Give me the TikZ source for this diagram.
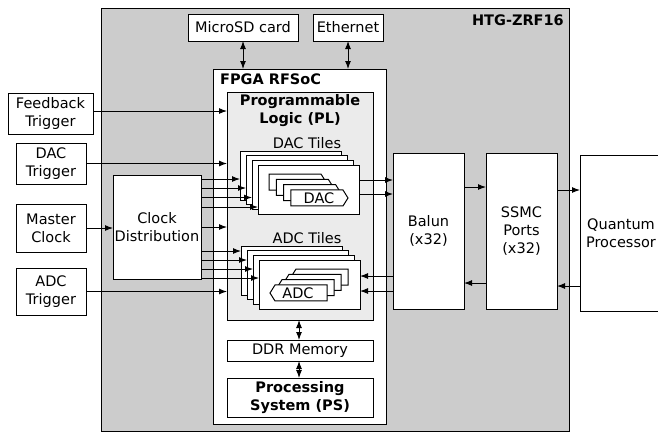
\documentclass[tikz,border=0pt]{standalone}
\usepackage{fontspec}
\setmainfont{DejaVu Sans}
\usetikzlibrary{arrows.meta,calc}
\definecolor{boardgray}{RGB}{204,204,204}
\definecolor{plgray}{RGB}{235,235,235}
\newcommand\fs{\fontsize{14.5pt}{18pt}\selectfont}
\begin{document}
\begin{tikzpicture}[x=1pt,y=-1pt,
  box/.style={draw, fill=white, line width=1pt, inner sep=0pt, outer sep=0pt, align=center, font=\fs},
  arr/.style={line width=1pt, -{Latex[length=8pt,width=6pt]}},
  darr/.style={line width=1pt, {Latex[length=8pt,width=6pt]}-{Latex[length=8pt,width=6pt]}},
  lbl/.style={inner sep=0pt, font=\fs, align=center},
  sig/.style={draw, fill=white, line width=1pt}]
\useasboundingbox (0,0) rectangle (658,434);
\clip (0,0) rectangle (658,434);
% board
\node[box, fill=boardgray, minimum width=468pt, minimum height=423pt] (board) at (335,219.5) {};
\node[lbl, font=\fs\bfseries, anchor=east] (htg) at (564,20) {HTG-ZRF16};
% top peripherals
\node[box, minimum width=110pt, minimum height=27pt] (sd) at (243,27.5) {MicroSD card};
\node[box, minimum width=70pt, minimum height=27pt] (eth) at (348,27.5) {Ethernet};
% FPGA
\node[box, minimum width=173pt, minimum height=355pt] (fpga) at (299.5,246.5) {};
\node[lbl, font=\fs\bfseries, anchor=west] (fpgalbl) at (220,79) {FPGA RFSoC};
\node[box, fill=plgray, minimum width=146pt, minimum height=228pt] (pl) at (300,206) {};
\node[lbl, font=\fs\bfseries] (pllbl) at (300,111) {Programmable\\Logic (PL)};
\node[box, minimum width=146pt, minimum height=21pt] (ddr) at (300,350.5) {DDR Memory};
\node[box, font=\fs\bfseries, minimum width=146pt, minimum height=39pt] (ps) at (300,397.5) {Processing\\System (PS)};
% DAC tiles
\node[lbl] (daclbl) at (307,143) {DAC Tiles};
\foreach \i in {0,...,3}
  \node[box, minimum width=101pt, minimum height=49pt, anchor=north west] (dt\i) at ({240+6*\i},{151+4.67*\i}) {};
\foreach \i in {0,...,3}
  \draw[sig] ({269+7.33*\i},{174+5.33*\i}) -- ++(52,0) -- ++(5,8) -- ++(-5,8) -- ++(-52,0) -- cycle;
\node[lbl] (dactxt) at (319,198) {DAC};
% ADC tiles
\node[lbl] (adclbl) at (307,238) {ADC Tiles};
\foreach \i in {0,...,3}
  \node[box, minimum width=101pt, minimum height=49pt, anchor=north west] (at\i) at ({241+6*\i},{246+4.67*\i}) {};
\foreach \i in {0,...,3}
  \draw[sig] ({348-7*\i},{269+5.33*\i}) -- ++(-52,0) -- ++(-5,8) -- ++(5,8) -- ++(52,0) -- cycle;
\node[lbl] (adctxt) at (298,293) {ADC};
% right side
\node[box, minimum width=71pt, minimum height=156pt] (balun) at (428.5,231) {Balun\\(x32)};
\node[box, minimum width=71pt, minimum height=156pt] (ssmc) at (521.5,231) {SSMC\\Ports\\(x32)};
\node[box, minimum width=82pt, minimum height=156pt] (qp) at (621,233) {Quantum\\Processor};
% left side
\node[box, minimum width=85pt, minimum height=41pt] (fb) at (50.5,113.5) {Feedback\\Trigger};
\node[box, minimum width=70pt, minimum height=41pt] (dtr) at (51,163.5) {DAC\\Trigger};
\node[box, minimum width=70pt, minimum height=48pt] (mc) at (51,228) {Master\\Clock};
\node[box, minimum width=70pt, minimum height=47pt] (atr) at (51,291.5) {ADC\\Trigger};
\node[box, minimum width=88pt, minimum height=104pt] (cd) at (157,227) {Clock\\Distribution};
% connectors
\draw[darr] (sd.south) -- (sd.south |- fpga.north);
\draw[darr] (eth.south) -- (eth.south |- fpga.north);
\draw[arr] (fb.east |- 0,111) -- (pl.west |- 0,111);
\draw[arr] (dtr.east) -- (dtr.east -| pl.west);
\draw[arr] (mc.east) -- (mc.east -| cd.west);
\draw[arr] (atr.east) -- (atr.east -| pl.west);
\draw[arr] (cd.east) -- (cd.east -| pl.west);
\foreach \i/\y in {0/179,1/188,2/197.5,3/207}
  \draw[arr] (cd.east |- 0,\y) -- (dt\i.west |- 0,\y);
\foreach \i/\y in {0/251,1/260,2/269,3/278}
  \draw[arr] (cd.east |- 0,\y) -- (at\i.west |- 0,\y);
\foreach \y in {180,194}
  \draw[arr] (dt3.east |- 0,\y) -- (balun.west |- 0,\y);
\foreach \y in {276,291}
  \draw[arr] (balun.west |- 0,\y) -- (at3.east |- 0,\y);
\draw[arr] (balun.east |- 0,187) -- (ssmc.west |- 0,187);
\draw[arr] (ssmc.east |- 0,190) -- (qp.west |- 0,190);
\draw[arr] (qp.west |- 0,286) -- (ssmc.east |- 0,286);
\draw[arr] (ssmc.west |- 0,283) -- (balun.east |- 0,283);
\draw[darr] (pl.south -| 299,0) -- (ddr.north -| 299,0);
\draw[darr] (ddr.south -| 299,0) -- (ps.north -| 299,0);
\end{tikzpicture}
\end{document}
